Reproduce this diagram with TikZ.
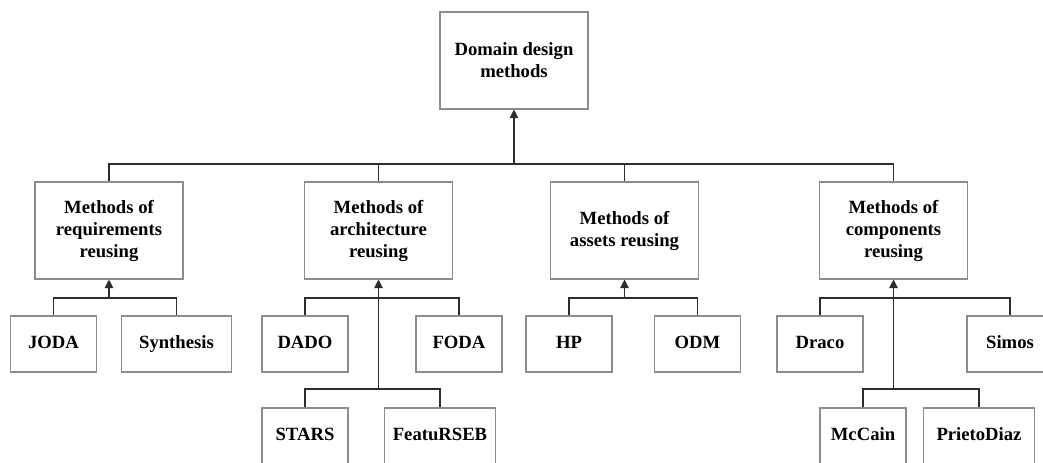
\documentclass[tikz,border=0pt]{standalone}
\usepackage{fontspec}
\setmainfont{Liberation Serif}
\usetikzlibrary{arrows.meta}

\tikzset{
  bigbox/.style={draw={rgb,255:red,140;green,140;blue,140}, line width=0.8pt, fill=white,
    minimum width=111pt, minimum height=72.75pt, inner sep=0.75pt, align=center,
    font=\fontsize{14}{16.5}\selectfont\bfseries},
  leafbox/.style={bigbox, minimum width=64.5pt, minimum height=42pt, text height=9.5pt, text depth=3pt},
  wideleaf/.style={leafbox, minimum width=83pt},
  link/.style={draw={rgb,255:red,45;green,45;blue,45}, line width=0.85pt},
  uplink/.style={link, -{Triangle[width=6.5pt,length=6.5pt]}}
}

\begin{document}
\begin{tikzpicture}[x=0.75pt,y=0.75pt,yscale=-1,xscale=1]
\clip (0,0) rectangle (1043,463); %set diagram size 1043 x 463

%Shape: Rectangle [top]
\node (top) at (514,60.5) [bigbox] {Domain design\\methods};

%Shape: Rectangle [second level]
\node (req) at (109,230.5) [bigbox] {Methods of\\requirements\\reusing};
\node (arch) at (378.5,230.5) [bigbox] {Methods of\\architecture\\reusing};
\node (asset) at (624.5,230.5) [bigbox] {Methods of\\assets reusing};
\node (comp) at (893.5,230.5) [bigbox] {Methods of\\components\\reusing};

%Shape: Rectangle [leaves]
\node (joda) at (53.5,344) [leafbox] {JODA};
\node (synth) at (176.5,344) [wideleaf] {Synthesis};
\node (dado) at (305,344) [leafbox] {DADO};
\node (foda) at (459,344) [leafbox] {FODA};
\node (hp) at (569,344) [leafbox] {HP};
\node (odm) at (697.5,344) [leafbox] {ODM};
\node (draco) at (820,344) [leafbox] {Draco};
\node (simos) at (1010,344) [leafbox] {Simos};
\node (stars) at (305,436) [leafbox] {STARS};
\node (featu) at (440,436) [wideleaf] {FeatuRSEB};
\node (mccain) at (863,436) [leafbox] {McCain};
\node (prieto) at (979,436) [wideleaf] {PrietoDiaz};

%Bus points
\coordinate (b0) at (514,164);
\coordinate (b1) at (109,298);
\coordinate (b2) at (378.5,298);
\coordinate (b2a) at (378.5,389);
\coordinate (b3) at (624.5,298);
\coordinate (b4) at (893.5,298);
\coordinate (b4a) at (893.5,389);

%Straight Lines [top bus]
\draw [link] (req.north) |- (b0) -| (comp.north);
\draw [link] (arch.north) -- (arch.north |- b0);
\draw [link] (asset.north) -- (asset.north |- b0);
\draw [uplink] (b0) -- (top.south);

%Straight Lines [requirements]
\draw [link] (joda.north) |- (b1) -| (synth.north);
\draw [uplink] (b1) -- (req.south);

%Straight Lines [architecture]
\draw [link] (dado.north) |- (b2) -| (foda.north);
\draw [link] (stars.north) |- (b2a) -| (featu.north);
\draw [uplink] (b2a) -- (arch.south);

%Straight Lines [assets]
\draw [link] (hp.north) |- (b3) -| (odm.north);
\draw [uplink] (b3) -- (asset.south);

%Straight Lines [components]
\draw [link] (draco.north) |- (b4) -| (simos.north);
\draw [link] (mccain.north) |- (b4a) -| (prieto.north);
\draw [uplink] (b4a) -- (comp.south);

\end{tikzpicture}
\end{document}
